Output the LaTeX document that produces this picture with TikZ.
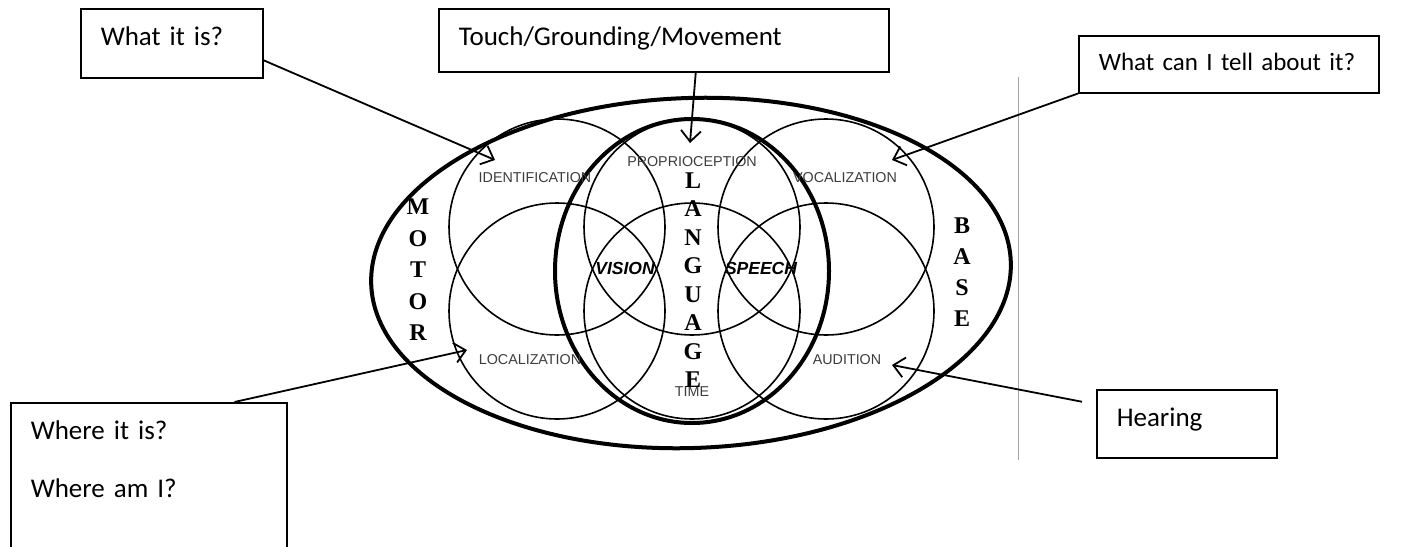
\documentclass[tikz,border=0pt]{standalone}
\usepackage{fontspec}
\setmainfont{Liberation Serif}
\newfontfamily\boxfont[WordSpace=0.85]{Carlito}
\newfontfamily\labelfont{Liberation Sans}
\usetikzlibrary{arrows.meta,positioning,calc}
\definecolor{labelgray}{RGB}{60,60,60}

\begin{document}
\begin{tikzpicture}[
  x=1pt, y=-1pt,
  callout/.style={draw, line width=1.5pt, anchor=north west, align=left,
                  inner xsep=20pt, inner ysep=0pt, text height=37pt,
                  font=\boxfont\fontsize{27}{58}\selectfont},
  ring/.style={line width=1.6pt},
  rim/.style={line width=4pt},
  sense/.style={font=\labelfont\fontsize{14.3}{16}\selectfont, text=labelgray, inner sep=0pt},
  core/.style={font=\labelfont\bfseries\itshape\fontsize{17.5}{20}\selectfont, inner sep=0pt},
  spine/.style={font=\bfseries\fontsize{24}{#1}\selectfont, align=center, inner sep=0pt},
  pointer/.style={line width=1.8pt, -{Straight Barb[length=11pt,width=20pt]}}
]
\useasboundingbox (0,0) rectangle (1423,546);

% the two big outlines
\draw[rim, rotate around={2:(691,273)}] (691,273) ellipse [x radius=320, y radius=175];
\draw[rim] (692,271) ellipse [x radius=137, y radius=152];

% six overlapping circles
\foreach \cx in {557,692,826} {
  \draw[ring] (\cx,227) circle [radius=108];
  \draw[ring] (\cx,311) circle [radius=108];
}

% labels in the circles
\node[sense] (ident)   at (535,178) {IDENTIFICATION};
\node[sense] (proprio) at (692,162) {PROPRIOCEPTION};
\node[sense] (vocal)   at (845,178) {VOCALIZATION};
\node[sense] (local)   at (530,360) {LOCALIZATION};
\node[sense] (time)    at (692,392) {TIME};
\node[sense] (audit)   at (847,360) {AUDITION};
\node[core] (vision) at (625,268) {VISION};
\node[core] (speech) at (761,268) {SPEECH};

\node[spine=31.5] (motor)    at (418,270) {M\\O\\T\\O\\R};
\node[spine=28.5] (language) at (693,280) {L\\A\\N\\G\\U\\A\\G\\E};
\node[spine=31]   (base)     at (962,272) {B\\A\\S\\E};

% separator
\draw[gray!70, line width=0.8pt] (1018,77) -- (1018,460);

% text boxes
\node[callout, text width=142pt, text depth=32pt] (what) at (80,8) {What it is?};
\node[callout, text width=410pt, text depth=26pt] (touch) at (438,8) {Touch/Grounding/Movement};
\node[callout, text width=260pt, text height=35pt, text depth=22pt,
      font=\boxfont\fontsize{25}{30}\selectfont] (tell) at (1078,35) {What can I tell about it?};
\node[callout, text width=236pt, text depth=200pt] (where) at (10,402) {Where it is?\\Where am I?};
\node[callout, text width=140pt, text depth=31pt] (hearing) at (1096,389) {Hearing};

% arrow tips
\coordinate (identtip) at (495,160);
\coordinate (propriotip) at (690,143);
\coordinate (vocaltip) at (892,160);
\coordinate (localtip) at (467,350);
\coordinate (audittip) at (892,365);

\draw[pointer] ([yshift=-17pt]what.east) -- (identtip);
\draw[pointer] ([xshift=32pt]touch.south) -- (propriotip);
\draw[pointer] (tell.south west) -- (vocaltip);
\draw[pointer] ([xshift=-53pt]where.north east) -- (localtip);
\draw[pointer] ([xshift=-14pt,yshift=22pt]hearing.west) -- (audittip);

\end{tikzpicture}
\end{document}
